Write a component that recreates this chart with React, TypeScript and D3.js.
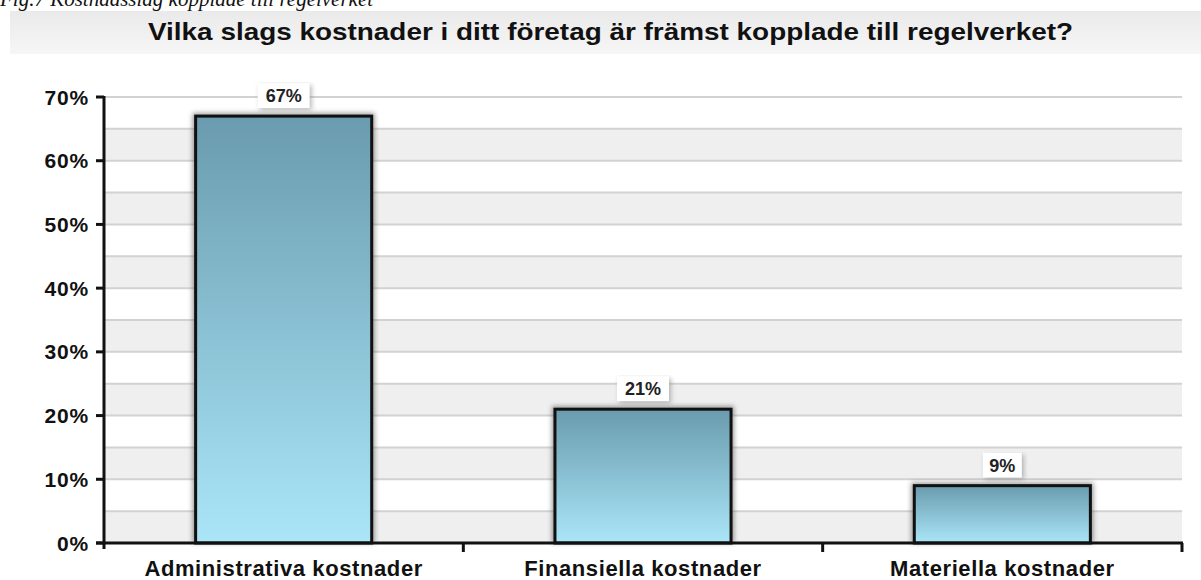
import React from "react";
import * as d3 from "d3";

const categories = ["Administrativa kostnader", "Finansiella kostnader", "Materiella kostnader"];
const values = [67, 21, 9];
const yTicks = [0, 10, 20, 30, 40, 50, 60, 70];
const title = "Vilka slags kostnader i ditt företag är främst kopplade till regelverket?";
const caption = "Fig.7 Kostnadsslag kopplade till regelverket";

export default function App() {
  const W = 1201, H = 580;
  const left = 104, right = 1182, top = 97, bottom = 543;
  const y = d3.scaleLinear().domain([0, 70]).range([bottom, top]);
  const x = d3.scaleBand().domain(categories).range([left, right]).paddingInner(0).paddingOuter(0);
  const bw = x.bandwidth() * 0.49;
  const bands = d3.range(0, 70, 5);
  const font = "'Liberation Sans', Arial, sans-serif";
  return (
    <svg width={W} height={H} style={{ position: "absolute", left: 0, top: 0 }}>
      <defs>
        <linearGradient id="barg" x1="0" y1="0" x2="0" y2="1">
          <stop offset="0" stopColor="#6a9bae" />
          <stop offset="1" stopColor="#aae6f8" />
        </linearGradient>
        <linearGradient id="titleg" x1="0" y1="0" x2="0" y2="1">
          <stop offset="0" stopColor="#eaeaea" />
          <stop offset="1" stopColor="#f6f6f6" />
        </linearGradient>
        <filter id="sh" x="-10%" y="-10%" width="120%" height="120%">
          <feGaussianBlur stdDeviation="2.5" />
        </filter>
      </defs>
      <rect width={W} height={H} fill="#fff" />
      <text x={0} y={6} fontFamily="'Liberation Serif', serif" fontStyle="italic" fontSize={21} fill="#111">{caption}</text>
      <rect x={10} y={11} width={W - 10} height={43} fill="url(#titleg)" />
      <text x={148} y={40} textLength={925} lengthAdjust="spacingAndGlyphs" fontFamily={font} fontWeight="bold" fontSize={24} fill="#111">{title}</text>
      {bands.map((b, i) => (
        <rect key={b} x={left} y={y(b + 5)} width={right - left} height={y(b) - y(b + 5)} fill={i % 2 === 0 ? "#efefef" : "#ffffff"} />
      ))}
      {d3.range(5, 75, 5).map(v => (
        <line key={v} x1={left} x2={right} y1={y(v)} y2={y(v)} stroke="#d2d2d2" strokeWidth={2} />
      ))}
      {categories.map((c, i) => {
        const cx = (x(c) as number) + x.bandwidth() / 2;
        const bx = cx - bw / 2;
        const yt = y(values[i]);
        const label = values[i] + "%";
        const lw = label.length * 13 + 13;
        const lh = 25;
        const ly = yt - 8 - lh;
        return (
          <g key={c}>
            <rect x={bx - 3} y={yt - 3} width={bw + 6} height={bottom - yt + 3} fill="#555" opacity={0.6} filter="url(#sh)" />
            <rect x={bx} y={yt} width={bw} height={bottom - yt} fill="url(#barg)" stroke="#111" strokeWidth={3} />
            <rect x={cx - lw / 2 + 2} y={ly + 2} width={lw} height={lh} fill="#888" opacity={0.6} filter="url(#sh)" />
            <rect x={cx - lw / 2} y={ly} width={lw} height={lh} fill="#fff" />
            <text x={cx} y={ly + 19} textAnchor="middle" fontFamily={font} fontWeight="bold" fontSize={18} fill="#222">{label}</text>
            <text x={cx} y={576} textAnchor="middle" fontFamily={font} fontWeight="bold" fontSize={22} letterSpacing={0.6} fill="#111">{c}</text>
          </g>
        );
      })}
      <line x1={left} x2={left} y1={top - 1} y2={bottom + 6} stroke="#111" strokeWidth={3} />
      <line x1={left - 8} x2={right + 1} y1={bottom} y2={bottom} stroke="#111" strokeWidth={3} />
      {yTicks.map(t => (
        <g key={t}>
          <line x1={left - 8} x2={left} y1={y(t)} y2={y(t)} stroke="#111" strokeWidth={3} />
          <text x={left - 15} y={y(t) + 7.5} textAnchor="end" fontFamily={font} fontWeight="bold" fontSize={21} letterSpacing={0.8} fill="#111">{t}%</text>
        </g>
      ))}
      {categories.map(c => {
        const xe = (x(c) as number) + x.bandwidth();
        return <line key={c} x1={xe} x2={xe} y1={bottom} y2={bottom + 9} stroke="#111" strokeWidth={3} />;
      })}
    </svg>
  );
}
